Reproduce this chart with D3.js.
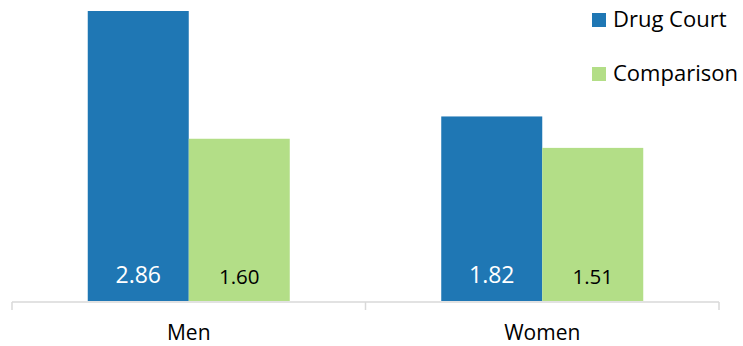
<!DOCTYPE html>
<html>
<head>
<meta charset="utf-8">
<script src="https://cdn.jsdelivr.net/npm/d3@7"></script>
<style>
  html, body { margin: 0; padding: 0; background: #fff; }
  svg text { font-family: "Open Sans", Carlito, Calibri, sans-serif; }
</style>
</head>
<body>
<svg id="chart" width="743" height="346"></svg>
<script>
// Average values by group and program
const categories = ["Men", "Women"];
const seriesNames = ["Drug Court", "Comparison"];
const drugCourt = [2.86, 1.82];
const comparison = [1.60, 1.51];
const colors = ["#1f77b4", "#b3de87"];
const labelColors = ["#ffffff", "#000000"];
const labelSizes = [23, 20.5];

const seriesValues = [drugCourt, comparison];
const rows = categories.map((c, i) => ({
  category: c,
  values: seriesNames.map((s, j) => ({ series: s, j, value: seriesValues[j][i] }))
}));

const svg = d3.select("#chart");
const axisY = 302;
const baseY = 301;

const x0 = d3.scaleBand().domain(categories).range([12, 719]).paddingInner(0).paddingOuter(0);
const groupWidth = 202;
const x1 = d3.scaleBand().domain(seriesNames).range([0, groupWidth]).padding(0);
const y = d3.scaleLinear().domain([0, d3.max(drugCourt.concat(comparison))]).range([baseY, 11]);

// Bars
const groups = svg.append("g").selectAll("g").data(rows).join("g")
  .attr("transform", d => `translate(${x0(d.category) + (x0.bandwidth() - groupWidth) / 2},0)`);

groups.selectAll("rect").data(d => d.values).join("rect")
  .attr("x", d => x1(d.series))
  .attr("y", d => y(d.value))
  .attr("width", x1.bandwidth())
  .attr("height", d => baseY - y(d.value))
  .attr("fill", d => colors[d.j]);

// Value labels near the bar bottom
groups.selectAll("text").data(d => d.values).join("text")
  .attr("x", d => x1(d.series) + x1.bandwidth() / 2)
  .attr("y", d => d.j === 0 ? 283 : 284)
  .attr("text-anchor", "middle")
  .attr("fill", d => labelColors[d.j])
  .attr("font-size", d => labelSizes[d.j])
  .text(d => d.value.toFixed(2));

// Category axis
const axis = svg.append("g").attr("transform", `translate(0,${axisY})`);
axis.append("line")
  .attr("x1", x0.range()[0]).attr("x2", x0.range()[1])
  .attr("y1", 0).attr("y2", 0)
  .attr("stroke", "#d9d9d9").attr("stroke-width", 1.5);
const tickXs = categories.map(c => x0(c)).concat([x0.range()[1]]);
axis.selectAll("line.tick").data(tickXs).join("line")
  .attr("class", "tick")
  .attr("x1", d => d).attr("x2", d => d)
  .attr("y1", 0).attr("y2", 8)
  .attr("stroke", "#d9d9d9").attr("stroke-width", 1.5);
axis.selectAll("text").data(categories).join("text")
  .attr("x", d => x0(d) + x0.bandwidth() / 2)
  .attr("y", 38)
  .attr("text-anchor", "middle")
  .attr("font-size", 21)
  .attr("fill", "#000")
  .text(d => d);

// Legend
const legend = svg.append("g").selectAll("g").data(seriesNames).join("g")
  .attr("transform", (d, i) => `translate(592,${13 + i * 54})`);
legend.append("rect")
  .attr("width", 14).attr("height", 14)
  .attr("fill", (d, i) => colors[i]);
legend.append("text")
  .attr("x", 21).attr("y", 14)
  .attr("font-size", 22)
  .attr("fill", "#000")
  .text(d => d);
</script>
</body>
</html>
